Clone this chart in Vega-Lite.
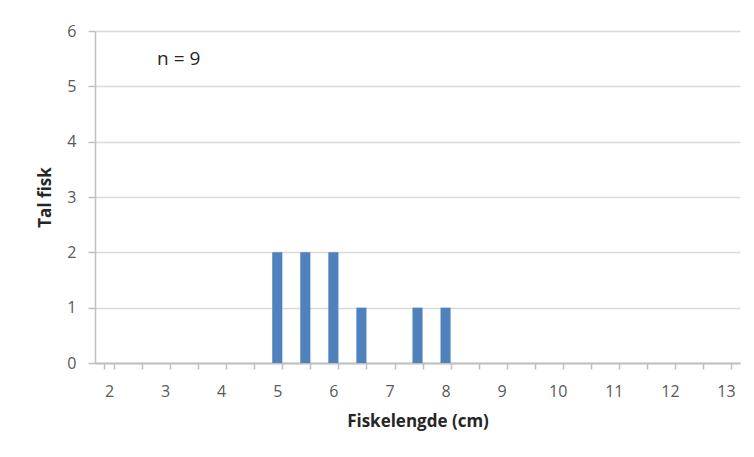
{
  "$schema": "https://vega.github.io/schema/vega-lite/v6.json",
  "width": 645,
  "height": 332,
  "autosize": {"type": "none"},
  "padding": {"left": 95, "top": 31, "right": 14, "bottom": 94},
  "background": "white",
  "config": {
    "view": {"stroke": null},
    "font": "Open Sans"
  },
  "datasets": {
    "bars": [
      {"L": 2, "n": 0}, {"L": 2.5, "n": 0}, {"L": 3, "n": 0}, {"L": 3.5, "n": 0},
      {"L": 4, "n": 0}, {"L": 4.5, "n": 0}, {"L": 5, "n": 2}, {"L": 5.5, "n": 2},
      {"L": 6, "n": 2}, {"L": 6.5, "n": 1}, {"L": 7, "n": 0}, {"L": 7.5, "n": 1},
      {"L": 8, "n": 1}, {"L": 8.5, "n": 0}, {"L": 9, "n": 0}, {"L": 9.5, "n": 0},
      {"L": 10, "n": 0}, {"L": 10.5, "n": 0}, {"L": 11, "n": 0}, {"L": 11.5, "n": 0},
      {"L": 12, "n": 0}, {"L": 12.5, "n": 0}, {"L": 13, "n": 0}
    ],
    "note": [{"L": 3, "n": 5.5, "t": "n = 9"}]
  },
  "layer": [
    {
      "data": {"name": "bars"},
      "mark": {"type": "bar", "color": "#4f81bd"},
      "encoding": {
        "x": {
          "field": "L",
          "type": "ordinal",
          "scale": {"paddingInner": 0.64, "paddingOuter": 0.32},
          "axis": {
            "title": "Fiskelengde (cm)",
            "labelAngle": 0,
            "labelExpr": "datum.value % 1 == 0 ? datum.label : ''",
            "tickBand": "extent",
            "tickSize": 6,
            "tickColor": "#bfbfbf",
            "tickWidth": 1.5,
            "domainColor": "#bfbfbf",
            "domainWidth": 2,
            "labelColor": "#595959",
            "labelFontSize": 16,
            "labelPadding": 14,
            "titleFontSize": 17,
            "titleFontWeight": "bold",
            "titleColor": "#262626",
            "titlePadding": 14
          }
        },
        "y": {
          "field": "n",
          "type": "quantitative",
          "scale": {"domain": [0, 6]},
          "axis": {
            "title": "Tal fisk",
            "format": "d",
            "values": [0, 1, 2, 3, 4, 5, 6],
            "tickSize": 7,
            "tickColor": "#bfbfbf",
            "tickWidth": 1.5,
            "domainColor": "#bfbfbf",
            "domainWidth": 1.5,
            "gridColor": "#d9d9d9",
            "gridWidth": 1.5,
            "labelColor": "#595959",
            "labelFontSize": 16,
            "labelPadding": 12,
            "titleFontSize": 17,
            "titleFontWeight": "bold",
            "titleColor": "#262626",
            "titlePadding": 12
          }
        }
      }
    },
    {
      "data": {"name": "note"},
      "mark": {"type": "text", "align": "left", "baseline": "middle", "dx": -8, "fontSize": 19, "color": "#262626"},
      "encoding": {
        "x": {"field": "L", "type": "ordinal"},
        "y": {"field": "n", "type": "quantitative"},
        "text": {"field": "t"}
      }
    }
  ]
}
